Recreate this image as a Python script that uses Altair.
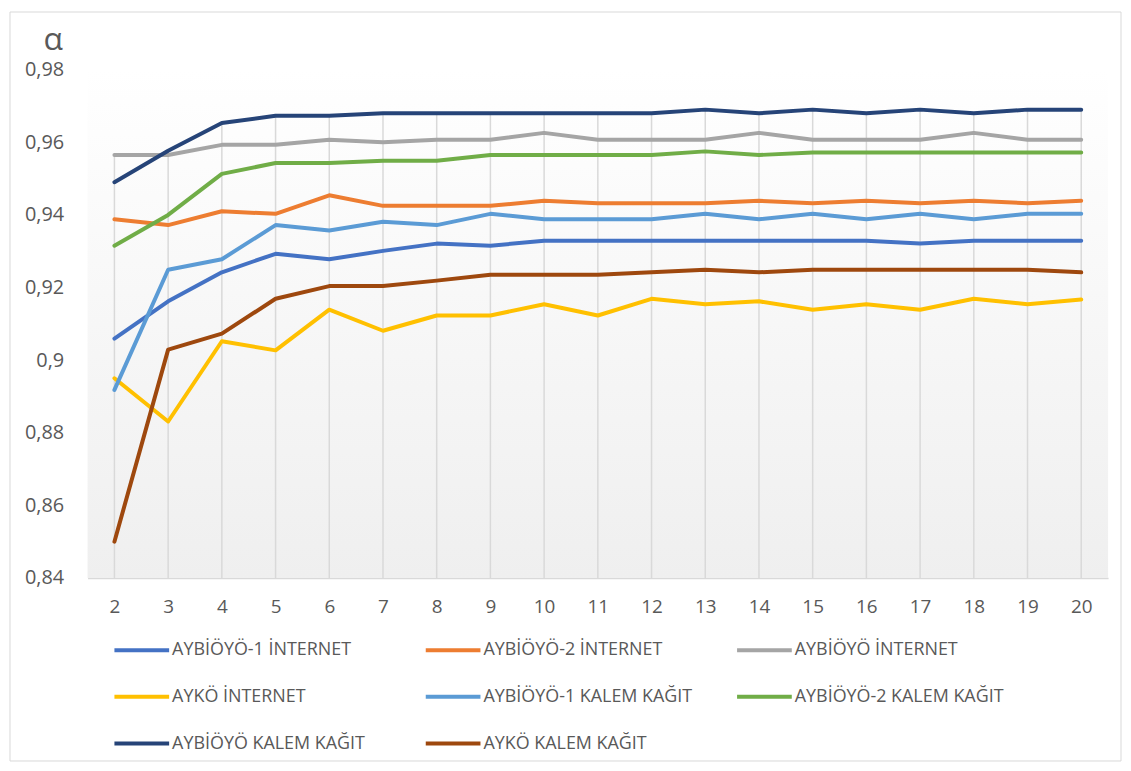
import altair as alt
import pandas as pd

x_values = list(range(2, 21))

series_names = [
    "AYBİÖYÖ-1 İNTERNET",
    "AYBİÖYÖ-2 İNTERNET",
    "AYBİÖYÖ İNTERNET",
    "AYKÖ İNTERNET",
    "AYBİÖYÖ-1 KALEM KAĞIT",
    "AYBİÖYÖ-2 KALEM KAĞIT",
    "AYBİÖYÖ KALEM KAĞIT",
    "AYKÖ KALEM KAĞIT",
]

aybioyo1_internet = [0.9059, 0.9162, 0.9242, 0.9293, 0.9278, 0.9301, 0.9321, 0.9315, 0.9329, 0.9329,
                     0.9329, 0.9329, 0.9329, 0.9329, 0.9329, 0.9321, 0.9329, 0.9329, 0.9329]
aybioyo2_internet = [0.9388, 0.9372, 0.9410, 0.9403, 0.9454, 0.9425, 0.9425, 0.9425, 0.9439, 0.9432,
                     0.9432, 0.9432, 0.9439, 0.9432, 0.9439, 0.9432, 0.9439, 0.9432, 0.9439]
aybioyo_internet = [0.9565, 0.9565, 0.9593, 0.9593, 0.9607, 0.9600, 0.9607, 0.9607, 0.9626, 0.9607,
                    0.9607, 0.9607, 0.9626, 0.9607, 0.9607, 0.9607, 0.9626, 0.9607, 0.9607]
ayko_internet = [0.8950, 0.8831, 0.9052, 0.9027, 0.9139, 0.9081, 0.9123, 0.9123, 0.9154, 0.9123,
                 0.9169, 0.9154, 0.9162, 0.9139, 0.9154, 0.9139, 0.9169, 0.9154, 0.9167]
aybioyo1_kalem = [0.8918, 0.9249, 0.9278, 0.9372, 0.9357, 0.9381, 0.9372, 0.9403, 0.9388, 0.9388,
                  0.9388, 0.9403, 0.9388, 0.9403, 0.9388, 0.9403, 0.9388, 0.9403, 0.9403]
aybioyo2_kalem = [0.9315, 0.9400, 0.9513, 0.9543, 0.9543, 0.9549, 0.9549, 0.9565, 0.9565, 0.9565,
                  0.9565, 0.9575, 0.9565, 0.9572, 0.9572, 0.9572, 0.9572, 0.9572, 0.9572]
aybioyo_kalem = [0.9490, 0.9577, 0.9653, 0.9673, 0.9673, 0.9680, 0.9680, 0.9680, 0.9680, 0.9680,
                 0.9680, 0.9690, 0.9680, 0.9690, 0.9680, 0.9690, 0.9680, 0.9690, 0.9690]
ayko_kalem = [0.8500, 0.9029, 0.9073, 0.9169, 0.9204, 0.9204, 0.9219, 0.9235, 0.9235, 0.9235,
              0.9242, 0.9249, 0.9242, 0.9249, 0.9249, 0.9249, 0.9249, 0.9249, 0.9242]

series_values = [aybioyo1_internet, aybioyo2_internet, aybioyo_internet, ayko_internet,
                 aybioyo1_kalem, aybioyo2_kalem, aybioyo_kalem, ayko_kalem]

colors = ["#4472C4", "#ED7D31", "#A5A5A5", "#FFC000", "#5B9BD5", "#70AD47", "#264478", "#9E480E"]

y_ticks = [0.84, 0.86, 0.88, 0.90, 0.92, 0.94, 0.96, 0.98]

rows = []
for name, vals in zip(series_names, series_values):
    for xv, v in zip(x_values, vals):
        rows.append({"x": xv, "value": v, "series": name})
df = pd.DataFrame(rows)

W, H = 1026, 511
FONT = "Open Sans"
TXT = "#595959"

x_scale = alt.Scale(domain=[1.5, 20.5], nice=False, zero=False)
y_scale = alt.Scale(domain=[0.84, 0.98], nice=False, zero=False)

x_axis = alt.Axis(values=x_values, grid=False, ticks=False, domainColor="#d9d9d9", domainWidth=1.5,
                  labelFontSize=19, labelColor=TXT, labelFont=FONT, labelPadding=20, title=None)
y_axis = alt.Axis(values=y_ticks, labelExpr="replace(format(datum.value, '.2~f'), '.', ',')",
                  domain=False, ticks=False, grid=False, labelFontSize=20, labelColor=TXT,
                  labelFont=FONT, labelPadding=24, title="α", titleAngle=0, titleX=-35, titleY=-30,
                  titleAlign="center", titleBaseline="middle", titleFontSize=32,
                  titleFontWeight="normal", titleColor=TXT, titleFont=FONT)

one = alt.Data(values=[{}])

bg = alt.Chart(one).mark_rect(
    color=alt.Gradient(gradient="linear",
                       stops=[alt.GradientStop(color="#ffffff", offset=0),
                              alt.GradientStop(color="#efefef", offset=1)],
                       x1=0, x2=0, y1=0, y2=1)
).encode(x=alt.value(0), x2=alt.value(W), y=alt.value(0), y2=alt.value(H))

frame = alt.Chart(one).mark_rect(fillOpacity=0, stroke="#d9d9d9", strokeWidth=1).encode(
    x=alt.value(-78), x2=alt.value(1039), y=alt.value(-58), y2=alt.value(695))

base = alt.Chart(df)

drops = base.transform_aggregate(top="max(value)", groupby=["x"]).mark_rule(
    color="#d9d9d9", strokeWidth=1.5
).encode(
    x=alt.X("x:Q", scale=x_scale, axis=x_axis),
    y=alt.Y("top:Q", scale=y_scale, axis=y_axis),
    y2=alt.datum(0.84),
)

lines = base.mark_line(strokeWidth=4, strokeCap="round", strokeJoin="round").encode(
    x=alt.X("x:Q", scale=x_scale, axis=x_axis),
    y=alt.Y("value:Q", scale=y_scale, axis=y_axis),
    color=alt.Color("series:N", scale=alt.Scale(domain=series_names, range=colors),
                    legend=alt.Legend(orient="none", legendX=25, legendY=554, columns=3,
                                      direction="horizontal",
                                      symbolType="stroke", symbolSize=3025, symbolStrokeWidth=4,
                                      labelFontSize=18, labelColor=TXT, labelFont=FONT,
                                      labelOffset=1, rowPadding=8, columnPadding=36,
                                      gridAlign="all", labelLimit=400, title=None)),
)

chart = alt.layer(bg, drops, lines, frame).properties(
    width=W, height=H, padding={"left": 1, "top": 1, "right": 1, "bottom": 1},
    background="#ffffff"
).configure_view(stroke=None)

chart.save("out.html", embed_options={"renderer": "svg", "actions": False})
